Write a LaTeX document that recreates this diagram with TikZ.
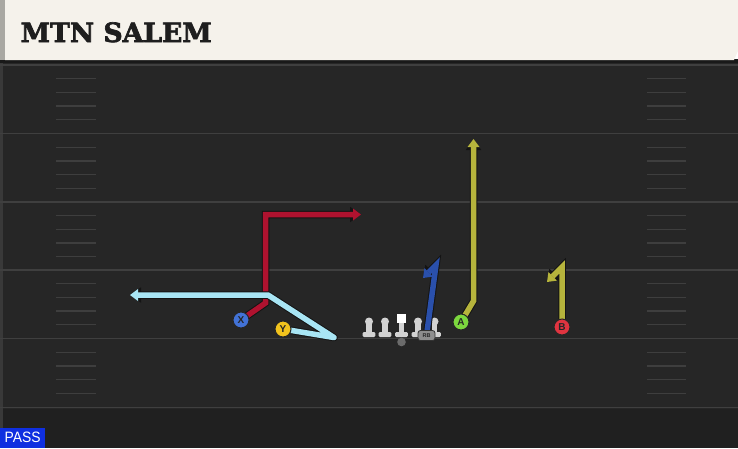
\documentclass[tikz,border=0pt]{standalone}
\usepackage{fontspec}
\usepackage{graphicx}
\setmainfont{Liberation Sans}
\newfontfamily\titlefont[BoldFeatures={FakeBold=2.5}]{DejaVu Serif}
\usetikzlibrary{arrows.meta}
\definecolor{fieldbg}{HTML}{262626}
\definecolor{fieldbot}{HTML}{202020}
\definecolor{yardc}{HTML}{3F3F3F}
\definecolor{hashc}{HTML}{3E3E3E}
\definecolor{edgec}{HTML}{393939}
\definecolor{titlebg}{HTML}{F5F2EB}
\definecolor{titlestrip}{HTML}{A9A8A2}
\definecolor{titletext}{HTML}{1E1E1E}
\definecolor{redroute}{HTML}{B0122F}
\definecolor{lbroute}{HTML}{A8E5F4}
\definecolor{oliveroute}{HTML}{B6B43C}
\definecolor{rbroute}{HTML}{2A50AC}
\definecolor{xblue}{HTML}{4272D6}
\definecolor{yyellow}{HTML}{F2C31D}
\definecolor{agreen}{HTML}{7CD83E}
\definecolor{bred}{HTML}{E03440}
\definecolor{passblue}{HTML}{0F2FE0}
\definecolor{lmfill}{HTML}{D2D2D2}
\definecolor{ballc}{HTML}{6B6B6B}
\definecolor{rbfill}{HTML}{8E8E8E}
\pgfdeclarelayer{bg}
\pgfdeclarelayer{routes}
\pgfsetlayers{bg,routes,main}
\tikzset{
  yard/.style={draw=yardc, line width=1.8pt},
  hashmark/.style={draw=hashc, line width=1.3pt},
  player/.style={circle, minimum size=16pt, inner sep=0pt, draw=black!85,
    line width=1pt, fill=#1, text=black!85,
    font=\fontsize{10}{10}\selectfont\bfseries},
  rbbox/.style={rounded corners=2.5pt, minimum width=17pt, minimum height=10pt,
    inner sep=0pt, draw=black!80, line width=0.8pt, fill=rbfill, text=black!85,
    font=\fontsize{5.5}{5.5}\selectfont\bfseries},
  routeout/.style={draw=black!92, line width=7.5pt, line join=miter, line cap=butt,
    -{Triangle[width=15.5pt,length=11pt,line width=0pt]}},
  routein/.style={draw=#1, line width=5.5pt, line join=miter, line cap=butt,
    -{Triangle[width=12pt,length=8pt,line width=0pt,fill=#1]}},
  lineman/.pic={
    \fill[lmfill] (-2.7,0) rectangle (2.7,11);
    \fill[lmfill, rounded corners=1.2pt] (-6.3,10.5) rectangle (6.3,15.5);
    \fill[lmfill] (0,0) circle (4);
  },
  centerman/.pic={
    \fill[lmfill] (-2.7,0) rectangle (2.7,11);
    \fill[lmfill, rounded corners=1.2pt] (-6.3,10.5) rectangle (6.3,15.5);
    \fill[white] (-4.6,-7.5) rectangle (4.6,1.5);
  },
}
\begin{document}
\begin{tikzpicture}[x=1pt,y=-1pt]
\useasboundingbox (0,0) rectangle (738,448);
\begin{pgfonlayer}{bg}
  % field
  \fill[fieldbg] (0,60) rectangle (738,448);
  \fill[fieldbot] (0,409) rectangle (738,448);
  \fill[edgec] (0,60) rectangle (2.5,448);
  \foreach \yy in {65,133.5,202,270,338.5,407.5}
    \draw[yard] (0,\yy) -- (738,\yy);
  \foreach \yy in {65,133.5,202,270,338.5}
    \foreach \k in {1,2,3,4} {
      \draw[hashmark] (56,\yy+13.7*\k) -- (96,\yy+13.7*\k);
      \draw[hashmark] (647,\yy+13.7*\k) -- (686,\yy+13.7*\k);
    }
  % title bar
  \fill[black!90] (0,59) rectangle (738,62.5);
  \fill[titlebg] (5,0) -- (738,0) -- (738,51) -- (734,60) -- (5,60) -- cycle;
  \fill[titlestrip] (0,0) rectangle (5,60);
  % offensive line
  \pic (lt) at (369,321.5) {lineman};
  \pic (lg) at (385,321.5) {lineman};
  \pic (c) at (401.5,321.5) {centerman};
  \pic (rg) at (418,321.5) {lineman};
  \pic (rt) at (434.5,321.5) {lineman};
  \fill[ballc] (401.5,342) circle (4.3);
\end{pgfonlayer}

\node[anchor=base west, inner sep=0pt, text=titletext] (title) at (20.5,42)
  {\resizebox{191pt}{!}{\titlefont\bfseries MTN SALEM}};

% players
\node[player=xblue] (X) at (241,320) {X};
\node[player=yyellow] (Y) at (283,329) {Y};
\node[player=agreen] (A) at (461,322) {A};
\node[player=bred] (B) at (562,327) {B};
\node[rbbox] (RB) at (426.5,335.5) {RB};

% route coordinates
\coordinate (x1) at (265.5,303);
\coordinate (x2) at (265.5,214.5);
\coordinate (xe) at (361,214.5);
\coordinate (y1) at (334,337.5);
\coordinate (y2) at (268,295);
\coordinate (ye) at (130,295);
\coordinate (a1) at (473.5,301);
\coordinate (ae) at (473.5,139);
\coordinate (b1) at (562,267);
\coordinate (be) at (547,282);
\coordinate (r1) at (436,265);
\coordinate (re) at (423,278);

\begin{pgfonlayer}{routes}
  \draw[routeout] (X.center) -- (x1) -- (x2) -- (xe);
  \draw[routein=redroute] (X.center) -- (x1) -- (x2) -- (xe);
  \draw[routeout, line join=round] (Y.center) -- (y1) -- (y2) -- (ye);
  \draw[routein=lbroute, line join=round] (Y.center) -- (y1) -- (y2) -- (ye);
  \draw[routeout] (A.center) -- (a1) -- (ae);
  \draw[routein=oliveroute] (A.center) -- (a1) -- (ae);
  \draw[routeout] (B.center) -- (b1) -- (be);
  \draw[routein=oliveroute] (B.center) -- (b1) -- (be);
  \draw[routeout] (RB.center) -- (r1) -- (re);
  \draw[routein=rbroute] (RB.center) -- (r1) -- (re);
\end{pgfonlayer}

% play type label
\node[fill=passblue, minimum width=45pt, minimum height=20pt, inner sep=0pt,
  anchor=south west, text=white] (pass) at (0,448)
  {\resizebox{36pt}{10.5pt}{PASS}};
\end{tikzpicture}
\end{document}
